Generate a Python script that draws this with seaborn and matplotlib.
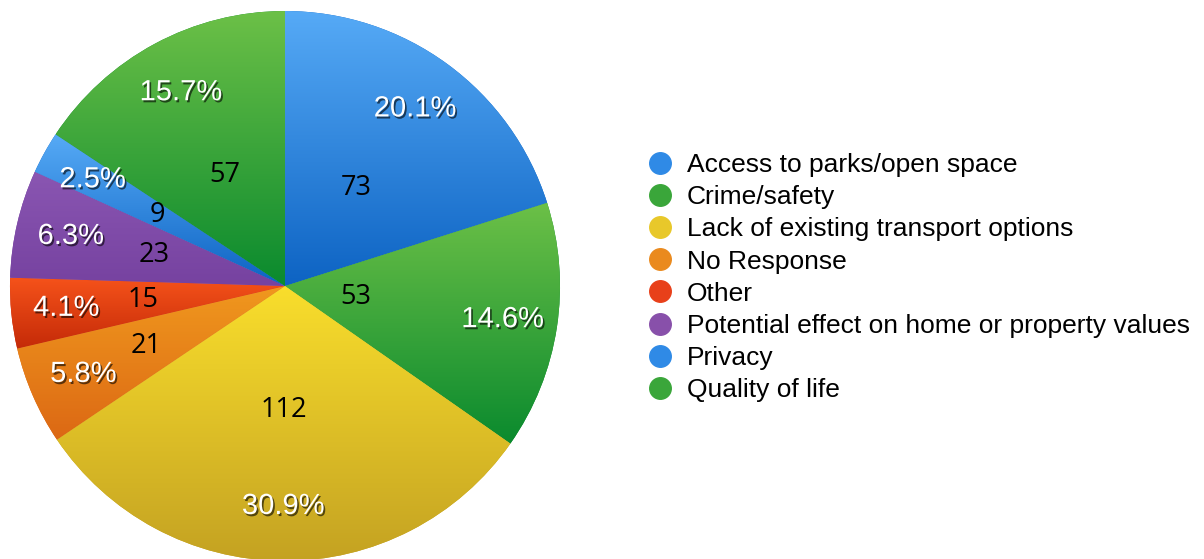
import numpy as np
import matplotlib
matplotlib.use("Agg")
import matplotlib.pyplot as plt
import matplotlib.patheffects as pe
from matplotlib.colors import to_rgb
from matplotlib.lines import Line2D
import seaborn as sns

categories = ["Access to parks/open space", "Crime/safety",
              "Lack of existing transport options", "No Response", "Other",
              "Potential effect on home or property values", "Privacy",
              "Quality of life"]
counts = [73, 53, 112, 21, 15, 23, 9, 57]

# gradient colours per slice (top -> bottom) and flat legend colours
top_colors = ["#56aaf6", "#6cc047", "#f9de2c", "#f0981e", "#f5521a", "#8a56b2", "#56aaf6", "#6cc047"]
bottom_colors = ["#0d63c3", "#0a8a2e", "#c4a222", "#dc6814", "#c42a08", "#7642a0", "#0d63c3", "#0a8a2e"]
legend_colors = ["#2f8ae6", "#3aa63a", "#e8c82a", "#ea8a1e", "#e8401a", "#8850aa", "#2f8ae6", "#3aa63a"]
# radial position of the count labels (fraction of radius)
count_radius = [0.44, 0.26, 0.45, 0.55, 0.52, 0.49, 0.53, 0.46]

sns.set_theme(style="white")
plt.rcParams['font.family'] = ['Liberation Sans', 'DejaVu Sans']

W, H = 1204, 559
fig = plt.figure(figsize=(W / 100, H / 100), dpi=100)
R = 275
cx, cy = 285, H - 286
ax = fig.add_axes([(cx - R) / W, (cy - R) / H, 2 * R / W, 2 * R / H])

wedges, _, pct_texts = ax.pie(counts, startangle=90, counterclock=False,
                              autopct='%1.1f%%', pctdistance=0.80,
                              textprops=dict(color='white', fontsize=21))

t = np.linspace(0, 1, 256)[:, None]
for w, c0, c1 in zip(wedges, top_colors, bottom_colors):
    v = w.get_path().vertices
    grad = (1 - t) * np.array(to_rgb(c0)) + t * np.array(to_rgb(c1))
    img = ax.imshow(grad[:, None, :], extent=(v[:, 0].min(), v[:, 0].max(), v[:, 1].min(), v[:, 1].max()),
                    origin='upper', aspect='auto', interpolation='bilinear', zorder=1.5)
    img.set_clip_path(w)
    w.set_facecolor(c1)
    w.set_edgecolor('none')

for txt in pct_texts:
    txt.set_path_effects([pe.withSimplePatchShadow(offset=(1.2, -1.5), shadow_rgbFace='black', alpha=0.6)])
    txt.set_zorder(4)

for w, c, r in zip(wedges, counts, count_radius):
    ang = np.deg2rad((w.theta1 + w.theta2) / 2)
    ax.text(r * np.cos(ang), r * np.sin(ang), str(c), ha='center', va='center',
            fontsize=19.5, family=['Open Sans', 'DejaVu Sans'], color='black', zorder=4)

ax.set_xlim(-1, 1)
ax.set_ylim(-1, 1)
ax.axis('off')

handles = [Line2D([], [], marker='o', linestyle='none', markersize=15.5,
                  markerfacecolor=c, markeredgecolor=c) for c in legend_colors]
fig.legend(handles, categories, loc='upper left', bbox_to_anchor=(647 / W, 1 - 153 / H),
           frameon=False, fontsize=19, handlelength=1.0, handletextpad=0.52,
           labelspacing=0.31, borderpad=0, borderaxespad=0, labelcolor='black')

fig.savefig('out.png', dpi=100)
